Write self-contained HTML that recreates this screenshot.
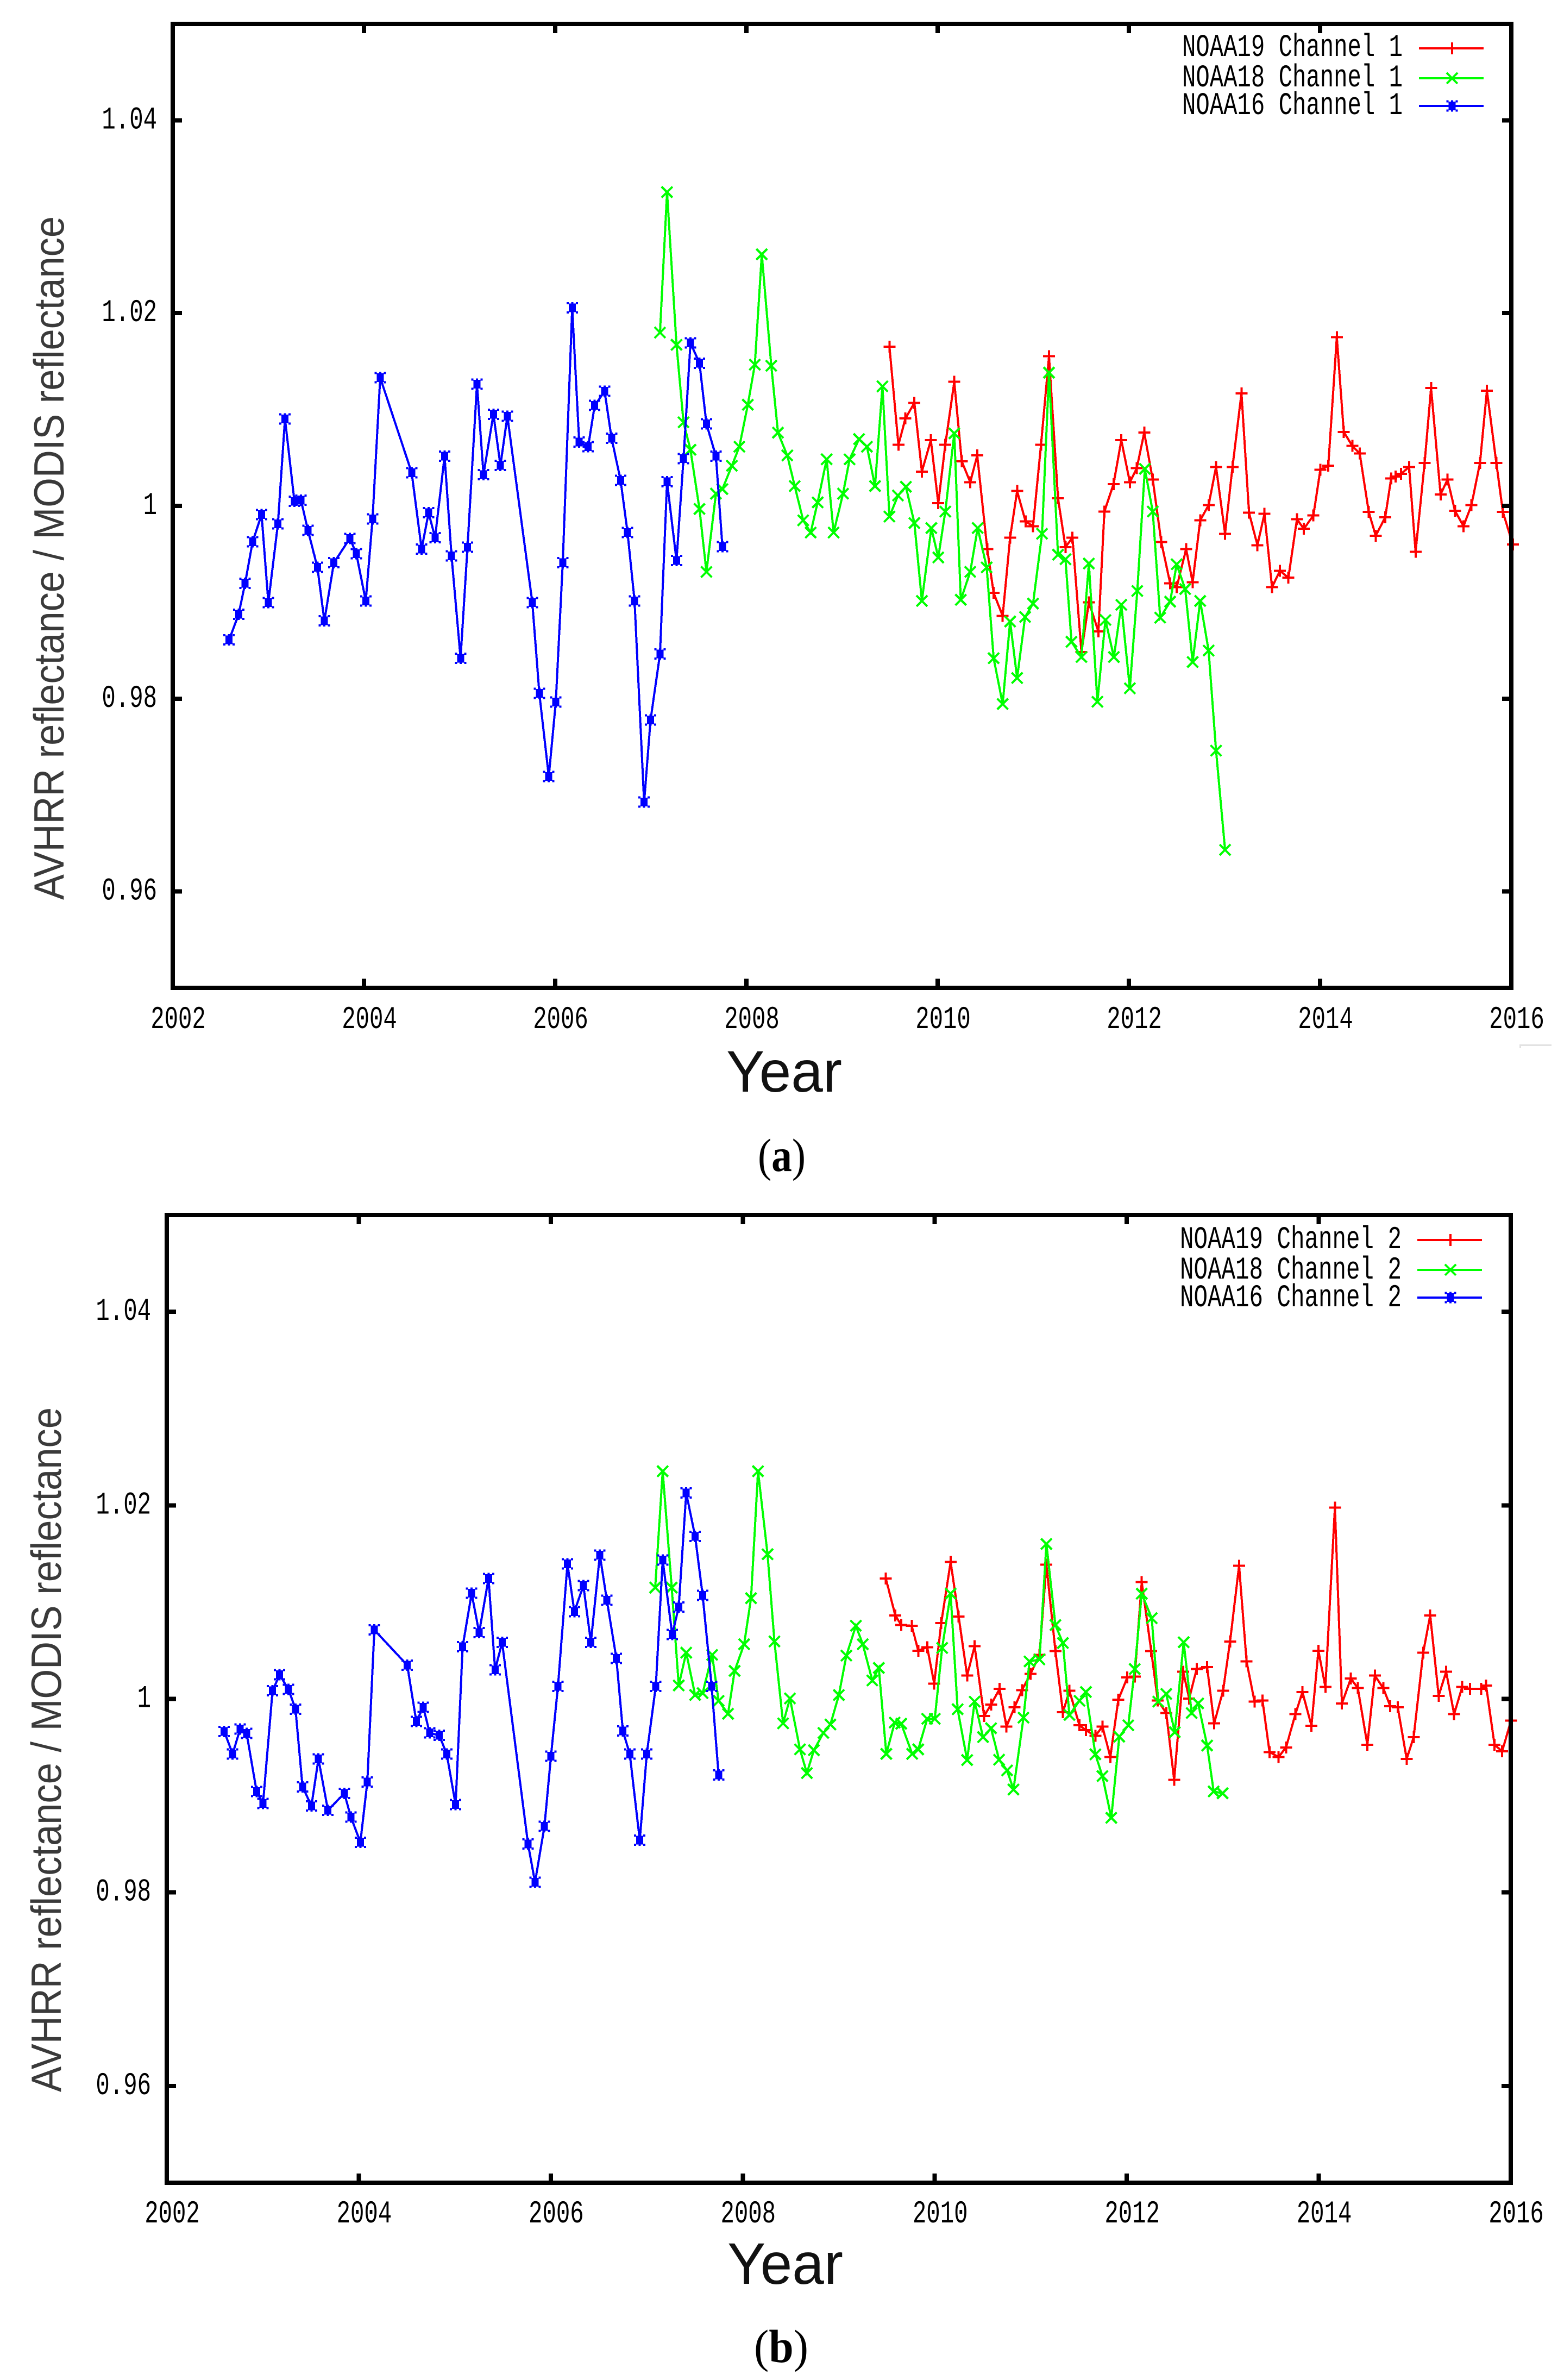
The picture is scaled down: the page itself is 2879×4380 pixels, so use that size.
<!DOCTYPE html>
<html lang="en">
<head>
<meta charset="utf-8">
<title>AVHRR / MODIS reflectance ratio</title>
<style>
html,body{margin:0;padding:0;background:#fff}
svg{display:block}
.pix{font-family:"Liberation Mono",monospace;font-size:58px;fill:#000}
.ytitle{font-family:"Liberation Sans",sans-serif;font-size:78px;fill:#3a3a3a}
.xtitle{font-family:"Liberation Sans",sans-serif;font-size:108px;fill:#111}
.cap{font-family:"Liberation Serif",serif;font-size:86px;fill:#000}
</style>
</head>
<body>
<svg id="root" xmlns="http://www.w3.org/2000/svg" width="2879" height="4380" viewBox="0 0 2879 4380">
<rect x="0" y="0" width="2879" height="4380" fill="#fff"/>
<g id="panelA"></g>
<g id="panelB"></g>

<text class="ytitle" transform="translate(117 1656) rotate(-90)" textLength="1258" lengthAdjust="spacingAndGlyphs">AVHRR reflectance / MODIS reflectance</text>
<text class="xtitle" x="1337" y="2009" textLength="213" lengthAdjust="spacingAndGlyphs">Year</text>
<text class="cap" x="1395" y="2155" textLength="88" lengthAdjust="spacingAndGlyphs">(<tspan font-weight="bold">a</tspan>)</text>

<text class="pix" x="2176" y="103" textLength="406" lengthAdjust="spacingAndGlyphs">NOAA19 Channel 1</text>
<text class="pix" x="2176" y="159" textLength="406" lengthAdjust="spacingAndGlyphs">NOAA18 Channel 1</text>
<text class="pix" x="2176" y="210" textLength="406" lengthAdjust="spacingAndGlyphs">NOAA16 Channel 1</text>

<rect x="2797" y="1922" width="59" height="3" fill="#e2e2e2"/>
<rect x="2797" y="1922" width="3" height="7" fill="#e2e2e2"/>

<text class="ytitle" transform="translate(112 3850) rotate(-90)" textLength="1260" lengthAdjust="spacingAndGlyphs">AVHRR reflectance / MODIS reflectance</text>
<text class="xtitle" x="1339" y="4203" textLength="213" lengthAdjust="spacingAndGlyphs">Year</text>
<text class="cap" x="1388" y="4347" textLength="100" lengthAdjust="spacingAndGlyphs">(<tspan font-weight="bold">b</tspan>)</text>

<text class="pix" x="2172" y="2297" textLength="408" lengthAdjust="spacingAndGlyphs">NOAA19 Channel 2</text>
<text class="pix" x="2172" y="2353" textLength="408" lengthAdjust="spacingAndGlyphs">NOAA18 Channel 2</text>
<text class="pix" x="2172" y="2404" textLength="408" lengthAdjust="spacingAndGlyphs">NOAA16 Channel 2</text>
</svg>

<script>
var xTickLabels = ["2002","2004","2006","2008","2010","2012","2014","2016"];
var xTickValues = [2002,2004,2006,2008,2010,2012,2014,2016];
var yTickLabels = ["1.04","1.02","1","0.98","0.96"];
var yTickValues = [1.04,1.02,1,0.98,0.96];

/* Panel (a) : Channel 1 */
var ch1Noaa16Years = [2002.589,2002.689,2002.757,2002.835,2002.929,2003.0,2003.10,2003.174,2003.273,2003.341,2003.414,2003.513,2003.586,2003.685,2003.852,2003.92,2004.019,2004.09,2004.17,2004.499,2004.603,2004.676,2004.744,2004.843,2004.916,2005.01,2005.083,2005.182,2005.25,2005.354,2005.427,2005.5,2005.761,2005.834,2005.933,2006.006,2006.079,2006.178,2006.251,2006.345,2006.413,2006.517,2006.59,2006.684,2006.757,2006.83,2006.93,2006.997,2007.096,2007.17,2007.269,2007.342,2007.415,2007.509,2007.582,2007.681,2007.749];
var ch1Noaa16Values = [0.9861,0.98875,0.99196,0.99628,0.99909,0.98998,0.99814,1.00903,1.00048,1.00059,0.99747,0.99362,0.98808,0.9941,0.99663,0.99505,0.99014,0.99865,1.0133,1.00345,0.99552,0.99929,0.99671,1.00515,0.99481,0.9842,0.99572,1.01263,1.00325,1.0095,1.0042,1.00931,0.98998,0.98055,0.97192,0.97964,0.9941,1.02055,1.00661,1.00614,1.01042,1.01188,1.00701,1.00265,0.99723,0.99014,0.96927,0.97778,0.98463,1.0025,0.99434,1.00491,1.01691,1.01481,1.00851,1.00515,0.99576];

var ch1Noaa18Years = [2007.096,2007.17,2007.269,2007.342,2007.415,2007.509,2007.582,2007.681,2007.749,2007.848,2007.926,2008.015,2008.088,2008.161,2008.26,2008.33,2008.427,2008.505,2008.594,2008.672,2008.745,2008.839,2008.912,2009.011,2009.079,2009.178,2009.261,2009.345,2009.423,2009.496,2009.585,2009.668,2009.757,2009.835,2009.934,2010.007,2010.08,2010.174,2010.242,2010.341,2010.419,2010.513,2010.586,2010.68,2010.758,2010.831,2010.915,2010.998,2011.092,2011.165,2011.259,2011.337,2011.4,2011.504,2011.582,2011.671,2011.755,2011.843,2011.921,2012.01,2012.088,2012.167,2012.25,2012.328,2012.432,2012.5,2012.589,2012.667,2012.746,2012.834,2012.912,2013.006];
var ch1Noaa18Values = [1.01798,1.03255,1.01671,1.00867,1.00582,0.99968,0.99315,1.00127,1.00174,1.00416,1.00614,1.01049,1.01465,1.0261,1.01453,1.0076,1.00523,1.00206,0.9985,0.99723,1.00036,1.00483,0.99723,1.00127,1.00483,1.00693,1.00614,1.00206,1.0124,0.99889,1.00107,1.00198,0.99822,0.99014,0.9977,0.99465,0.99941,1.00752,0.99026,0.99315,0.9977,0.99362,0.9842,0.97945,0.988,0.98214,0.98847,0.98986,0.99711,1.01382,0.99493,0.99446,0.9859,0.98432,0.99402,0.97968,0.98816,0.98432,0.98974,0.98107,0.99117,1.00384,0.99941,0.9884,0.99006,0.99394,0.99137,0.9838,0.99014,0.98499,0.97461,0.96432];

var ch1Noaa19Years = [2009.496,2009.59,2009.663,2009.757,2009.835,2009.929,2010.007,2010.08,2010.174,2010.252,2010.341,2010.414,2010.519,2010.586,2010.68,2010.758,2010.831,2010.92,2010.998,2011.081,2011.165,2011.259,2011.337,2011.41,2011.504,2011.582,2011.681,2011.744,2011.84,2011.921,2012.01,2012.083,2012.161,2012.25,2012.339,2012.432,2012.5,2012.599,2012.667,2012.746,2012.834,2012.912,2013.006,2013.084,2013.178,2013.257,2013.345,2013.418,2013.497,2013.58,2013.669,2013.758,2013.83,2013.93,2014.003,2014.086,2014.175,2014.248,2014.337,2014.415,2014.509,2014.582,2014.681,2014.743,2014.79,2014.848,2014.931,2014.999,2015.093,2015.161,2015.26,2015.333,2015.411,2015.5,2015.583,2015.672,2015.745,2015.844,2015.912,2016.016];
var ch1Noaa19Values = [1.01651,1.00634,1.00907,1.01069,1.00356,1.00681,1.00028,1.00634,1.01287,1.00463,1.00246,1.00523,0.99553,0.99097,0.98859,0.99671,1.00154,0.99838,0.9979,1.00634,1.01552,1.00079,0.99572,0.99671,0.98483,0.99,0.98697,0.99941,1.00226,1.00681,1.00246,1.00392,1.0076,1.00273,0.99624,0.99196,0.99156,0.99553,0.99208,0.9985,1.00008,1.00404,0.99711,1.00404,1.01168,0.99929,0.99592,0.99917,0.99156,0.99327,0.99255,0.99861,0.99762,0.99901,1.00376,1.00416,1.0175,1.00768,1.00622,1.00543,0.99937,0.99691,0.99881,1.00285,1.00305,1.00333,1.00404,0.99525,1.00444,1.01224,1.00119,1.00273,0.99949,0.9979,1.00008,1.00444,1.01196,1.00444,0.99937,0.996];

/* Panel (b) : Channel 2 */
var ch2Noaa16Years = [2002.598,2002.686,2002.764,2002.832,2002.936,2003.003,2003.102,2003.175,2003.268,2003.341,2003.414,2003.507,2003.58,2003.679,2003.85,2003.918,2004.017,2004.089,2004.162,2004.505,2004.599,2004.672,2004.739,2004.838,2004.916,2005.009,2005.082,2005.176,2005.254,2005.352,2005.42,2005.493,2005.763,2005.836,2005.934,2006.002,2006.075,2006.174,2006.246,2006.34,2006.418,2006.511,2006.584,2006.683,2006.751,2006.823,2006.927,2007.0,2007.094,2007.166,2007.265,2007.333,2007.411,2007.504,2007.582,2007.676,2007.748];
var ch2Noaa16Values = [0.99664,0.99431,0.99688,0.99644,0.99043,0.98919,1.00083,1.00249,1.00099,0.99893,0.99091,0.98895,0.99379,0.98849,0.99024,0.98779,0.98519,0.99142,1.00712,1.00348,0.99767,0.99913,0.99648,0.99624,0.99431,0.98907,1.00538,1.01091,1.00684,1.01245,1.003,1.00585,0.985,0.98105,0.98682,0.99407,1.0013,1.01395,1.00901,1.0117,1.00585,1.01486,1.0102,1.00419,0.99668,0.99431,0.98539,0.99431,1.0013,1.01435,1.00664,1.00949,1.02127,1.0168,1.01071,1.0013,0.99213];

var ch2Noaa18Years = [2007.088,2007.166,2007.26,2007.333,2007.411,2007.504,2007.582,2007.681,2007.748,2007.847,2007.915,2008.014,2008.086,2008.159,2008.258,2008.33,2008.42,2008.492,2008.596,2008.668,2008.741,2008.84,2008.913,2009.001,2009.079,2009.178,2009.25,2009.349,2009.417,2009.495,2009.583,2009.651,2009.765,2009.828,2009.921,2010.0,2010.077,2010.165,2010.238,2010.337,2010.415,2010.503,2010.586,2010.67,2010.753,2010.82,2010.924,2010.987,2011.091,2011.163,2011.257,2011.335,2011.403,2011.507,2011.574,2011.673,2011.746,2011.839,2011.922,2012.016,2012.083,2012.156,2012.26,2012.328,2012.411,2012.5,2012.593,2012.676,2012.744,2012.837,2012.905,2012.998];
var ch2Noaa18Values = [1.0115,1.02352,1.0115,1.00138,1.00478,1.0004,1.00059,1.00455,0.9998,0.99846,1.00289,1.00565,1.0104,1.02352,1.01494,1.00593,0.99747,1.00004,0.99478,0.99233,0.9947,0.99648,0.99735,1.0004,1.00447,1.00755,1.00565,1.0019,1.0032,0.99431,0.99755,0.99743,0.99431,0.99478,0.99794,0.99794,1.00526,1.01087,0.99893,0.99368,0.99972,0.99605,0.99696,0.99371,0.99261,0.99063,0.99806,1.00387,1.00407,1.01601,1.00763,1.00577,0.99834,0.9998,1.00071,0.99427,0.99202,0.98771,0.99609,0.99727,1.00308,1.01087,1.00834,0.99972,1.00051,0.99656,1.00585,0.99854,0.99953,0.99518,0.99043,0.99024];

var ch2Noaa19Years = [2009.49,2009.589,2009.651,2009.76,2009.828,2009.921,2009.994,2010.067,2010.165,2010.249,2010.337,2010.415,2010.514,2010.586,2010.675,2010.747,2010.831,2010.909,2010.997,2011.091,2011.163,2011.257,2011.335,2011.403,2011.507,2011.574,2011.673,2011.746,2011.829,2011.912,2012.006,2012.083,2012.156,2012.255,2012.323,2012.411,2012.494,2012.588,2012.65,2012.728,2012.837,2012.91,2013.003,2013.076,2013.17,2013.248,2013.331,2013.414,2013.487,2013.581,2013.659,2013.757,2013.83,2013.924,2013.996,2014.069,2014.168,2014.241,2014.334,2014.407,2014.506,2014.584,2014.672,2014.745,2014.823,2014.916,2014.989,2015.088,2015.161,2015.249,2015.327,2015.41,2015.494,2015.577,2015.691,2015.743,2015.831,2015.91,2016.003];
var ch2Noaa19Values = [1.01245,1.00862,1.00763,1.00755,1.00498,1.00534,1.00158,1.00783,1.01415,1.0085,1.00241,1.00546,0.99822,0.99941,1.00103,0.99715,0.99913,1.00091,1.00257,1.00455,1.01387,1.00494,0.99862,1.00083,0.99727,0.99676,0.99617,0.99715,0.99399,0.99992,1.00221,1.00229,1.01206,1.00494,0.99984,0.99854,0.99162,1.00281,1.00004,1.00308,1.00328,0.99747,1.00083,1.00593,1.01376,1.00387,0.99972,0.99984,0.99451,0.99399,0.99498,0.99842,1.00071,0.99723,1.00498,1.00123,1.01977,0.99953,1.0021,1.00111,0.99526,1.00241,1.00111,0.99925,0.99913,0.99379,0.99605,1.00478,1.00862,1.00032,1.00281,0.99842,1.00123,1.00103,1.00103,1.00138,0.99526,0.99458,0.99775];

var NS = 'http://www.w3.org/2000/svg';
var MARK_PLUS = 'M-11 0H11M0 -11V11';
var MARK_CROSS = 'M-10 -10L10 10M-10 10L10 -10';
var MARK_STAR = 'M-6.5 -8h13v16h-13zM-10.5 -10.5h4v4h-4zM6.5 -10.5h4v4h-4zM-10.5 6.5h4v4h-4zM6.5 6.5h4v4h-4zM-2 -10.5h4v4h-4zM-2 6.5h4v4h-4z';

function svgEl(parent, tag) {
  var el = document.createElementNS(NS, tag);
  parent.appendChild(el);
  return el;
}

function drawMarker(parent, kind, color, px, py, name) {
  var m = svgEl(parent, 'path');
  
  
  m.setAttribute('transform', 'translate(' + px.toFixed(1) + ' ' + py.toFixed(1) + ')');
  m.setAttribute('shape-rendering', 'crispEdges');
  if (kind === 'star') {
    m.setAttribute('d', MARK_STAR);
    m.setAttribute('fill', color);
  } else {
    m.setAttribute('d', kind === 'plus' ? MARK_PLUS : MARK_CROSS);
    m.setAttribute('fill', 'none');
    m.setAttribute('stroke', color);
    m.setAttribute('stroke-width', '4');
  }
}

function drawSeries(parent, years, values, color, kind, xf, yf, name) {
  var g = svgEl(parent, 'g');
  
  
  var pts = [];
  for (var i = 0; i < years.length; i++) {
    pts.push(xf(years[i]).toFixed(1) + ',' + yf(values[i]).toFixed(1));
  }
  var line = svgEl(g, 'polyline');
  
  
  line.setAttribute('points', pts.join(' '));
  line.setAttribute('fill', 'none');
  line.setAttribute('stroke', color);
  line.setAttribute('stroke-width', '4');
  line.setAttribute('stroke-linejoin', 'miter');
  line.setAttribute('shape-rendering', 'crispEdges');
  for (var j = 0; j < years.length; j++) {
    drawMarker(g, kind, color, xf(years[j]), yf(values[j]), name + '-point');
  }
}

function drawBar(parent, x, y, w, h, name) {
  var r = svgEl(parent, 'rect');
  
  
  r.setAttribute('x', x);
  r.setAttribute('y', y);
  r.setAttribute('width', w);
  r.setAttribute('height', h);
  r.setAttribute('fill', '#000');
  r.setAttribute('shape-rendering', 'crispEdges');
}

function drawLabel(parent, text, x, y, anchor, name) {
  var t = svgEl(parent, 'text');
  
  
  t.setAttribute('class', 'pix');
  t.setAttribute('x', x);
  t.setAttribute('y', y);
  t.setAttribute('text-anchor', anchor);
  t.setAttribute('textLength', text.length * 25.4);
  t.setAttribute('lengthAdjust', 'spacingAndGlyphs');
  t.textContent = text;
}

function drawLegendEntry(parent, color, kind, x0, x1, mx, y, name) {
  var l = svgEl(parent, 'line');
  
  
  l.setAttribute('x1', x0);
  l.setAttribute('x2', x1);
  l.setAttribute('y1', y);
  l.setAttribute('y2', y);
  l.setAttribute('stroke', color);
  l.setAttribute('stroke-width', '4');
  l.setAttribute('shape-rendering', 'crispEdges');
  drawMarker(parent, kind, color, mx, y, name + '-marker');
}

function drawPanel(parent, left, right, top, bottom, xLabelBase, yLabelRight, series, legend, suffix) {
  var xf = function (year) { return left + (year - 2002) * (right - left) / 14; };
  var yf = function (v) { return bottom - (v - 0.95) * (bottom - top) / 0.1; };
  var T = 8, H = T / 2, L = 17;

  series.forEach(function (s) {
    drawSeries(parent, s.years, s.values, s.color, s.kind, xf, yf, s.name + '-' + suffix);
  });

  drawBar(parent, left - H, top - H, T, bottom - top + T, 'left-axis-' + suffix);
  drawBar(parent, right - H, top - H, T, bottom - top + T, 'right-axis-' + suffix);
  drawBar(parent, left - H, top - H, right - left + T, T, 'top-axis-' + suffix);
  drawBar(parent, left - H, bottom - H, right - left + T, T, 'bottom-axis-' + suffix);

  xTickValues.forEach(function (year, i) {
    if (i > 0 && i < xTickValues.length - 1) {
      drawBar(parent, xf(year) - H, top, T, L, 'x-tick-top-' + suffix);
      drawBar(parent, xf(year) - H, bottom - L, T, L, 'x-tick-bottom-' + suffix);
    }
    drawLabel(parent, xTickLabels[i], xf(year) + 10, xLabelBase, 'middle', 'x-tick-label-' + suffix);
  });

  yTickValues.forEach(function (v, i) {
    var py = yf(v);
    drawBar(parent, left, py - H, L, T, 'y-tick-left-' + suffix);
    drawBar(parent, right - L, py - H, L, T, 'y-tick-right-' + suffix);
    drawLabel(parent, yTickLabels[i], yLabelRight, py + 15, 'end', 'y-tick-label-' + suffix);
  });

  legend.forEach(function (e) {
    drawLegendEntry(parent, e.color, e.kind, e.x0, e.x1, e.mx, e.y, e.name + '-' + suffix);
  });
}

drawPanel(document.getElementById('panelA'), 318, 2782, 44, 1818, 1892, 289,
  [
    {years: ch1Noaa19Years, values: ch1Noaa19Values, color: '#ff0000', kind: 'plus', name: 'noaa19-series'},
    {years: ch1Noaa18Years, values: ch1Noaa18Values, color: '#00ff00', kind: 'cross', name: 'noaa18-series'},
    {years: ch1Noaa16Years, values: ch1Noaa16Values, color: '#0000ff', kind: 'star', name: 'noaa16-series'}
  ],
  [
    {color: '#ff0000', kind: 'plus', x0: 2612, x1: 2731, mx: 2673, y: 89, name: 'legend-noaa19'},
    {color: '#00ff00', kind: 'cross', x0: 2612, x1: 2731, mx: 2673, y: 144, name: 'legend-noaa18'},
    {color: '#0000ff', kind: 'star', x0: 2612, x1: 2731, mx: 2673, y: 195, name: 'legend-noaa16'}
  ], 'ch1');

drawPanel(document.getElementById('panelB'), 307, 2781, 2236, 4017, 4090, 278,
  [
    {years: ch2Noaa19Years, values: ch2Noaa19Values, color: '#ff0000', kind: 'plus', name: 'noaa19-series'},
    {years: ch2Noaa18Years, values: ch2Noaa18Values, color: '#00ff00', kind: 'cross', name: 'noaa18-series'},
    {years: ch2Noaa16Years, values: ch2Noaa16Values, color: '#0000ff', kind: 'star', name: 'noaa16-series'}
  ],
  [
    {color: '#ff0000', kind: 'plus', x0: 2609, x1: 2728, mx: 2670, y: 2282, name: 'legend-noaa19'},
    {color: '#00ff00', kind: 'cross', x0: 2609, x1: 2728, mx: 2670, y: 2337, name: 'legend-noaa18'},
    {color: '#0000ff', kind: 'star', x0: 2609, x1: 2728, mx: 2670, y: 2388, name: 'legend-noaa16'}
  ], 'ch2');
</script>
</body>
</html>
